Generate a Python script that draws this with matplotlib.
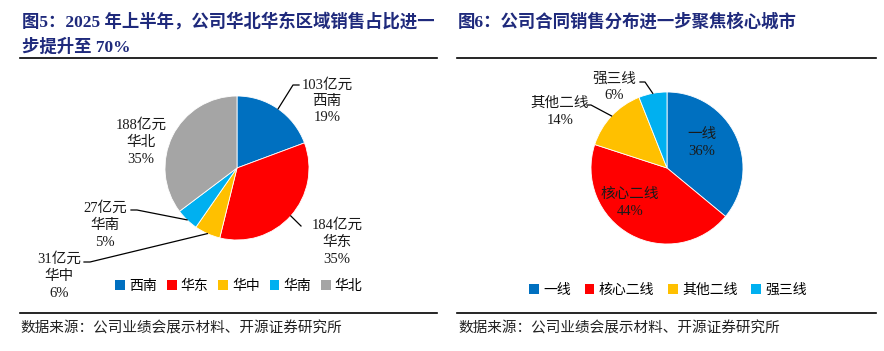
import numpy as np
import matplotlib
matplotlib.use("Agg")
import matplotlib.pyplot as plt
from matplotlib.lines import Line2D
from matplotlib.patches import Patch

plt.rcParams['font.family'] = ['Liberation Serif', 'Noto Sans CJK SC', 'DejaVu Sans']

# data
regions = ['西南', '华东', '华中', '华南', '华北']
region_sales = [103, 184, 31, 27, 188]   # 亿元
region_pct = [19, 35, 6, 5, 35]
region_colors = ['#0070C0', '#FF0000', '#FFC000', '#00B0F0', '#A5A5A5']

tiers = ['一线', '核心二线', '其他二线', '强三线']
tier_pct = [36, 44, 14, 6]
tier_colors = ['#0070C0', '#FF0000', '#FFC000', '#00B0F0']

title5 = '图5：2025 年上半年，公司华北华东区域销售占比进一\n步提升至 70%'
title6 = '图6：公司合同销售分布进一步聚焦核心城市'
source = '数据来源：公司业绩会展示材料、开源证券研究所'
navy = '#1F2A7C'

W, H = 884, 351
fig = plt.figure(figsize=(W / 100, H / 100), dpi=100)
ax = fig.add_axes([0, 0, 1, 1])

def Y(y):
    return H - y

def edge_pt(w, c, r):
    a = np.deg2rad((w.theta1 + w.theta2) / 2)
    return c[0] + r * np.cos(a), c[1] + r * np.sin(a)

# left pie
c5, r5 = (237, Y(168)), 72
w5, _ = ax.pie(region_sales, colors=region_colors, startangle=90, counterclock=False,
               center=c5, radius=r5, wedgeprops=dict(edgecolor='white', linewidth=0.6))

# right pie
c6, r6 = (667, Y(168)), 76
w6, _ = ax.pie(tier_pct, colors=tier_colors, startangle=90, counterclock=False,
               center=c6, radius=r6, wedgeprops=dict(edgecolor='white', linewidth=0.6))

ax.set_xlim(0, W)
ax.set_ylim(0, H)
ax.set_aspect('equal')
ax.axis('off')

# titles and rules
ax.text(22, Y(22), title5.split('\n')[0], fontsize=12.5, fontweight='bold', color=navy, va='center', ha='left')
ax.text(22, Y(47), title5.split('\n')[1], fontsize=12.5, fontweight='bold', color=navy, va='center', ha='left')
ax.text(458, Y(22), title6, fontsize=12.5, fontweight='bold', color=navy, va='center', ha='left')
for x0, x1 in [(20, 437), (457, 876)]:
    ax.add_line(Line2D([x0, x1], [Y(58), Y(58)], color='black', lw=1.2))
    ax.add_line(Line2D([x0, x1], [Y(313), Y(313)], color='black', lw=1.2))
ax.text(20, Y(329), source, fontsize=10.5, color='#222222', va='center', ha='left')
ax.text(458, Y(329), source, fontsize=10.5, color='#222222', va='center', ha='left')

# label positions (text center) and leader paths
lab5 = {
    '西南': ((327, 101), [(293, 85), (299, 85)]),
    '华东': ((337, 242), [(301, 226)]),
    '华中': ((59, 276), [(90, 262), (84, 262)]),
    '华南': ((105, 225), [(137, 210), (131, 210)]),
    '华北': ((141, 142), None),
}
for i, name in enumerate(regions):
    (tx, ty), path = lab5[name]
    s = f'{region_sales[i]}亿元\n{name}\n{region_pct[i]}%'
    ax.text(tx, Y(ty), s, fontsize=10.5, ha='center', va='center', linespacing=1.35, color='#1a1a1a')
    if path:
        ex, ey = edge_pt(w5[i], c5, r5)
        xs = [ex] + [p[0] for p in path]
        ys = [ey] + [Y(p[1]) for p in path]
        ax.add_line(Line2D(xs, ys, color='black', lw=0.9))

lab6 = {
    '一线': ((702, 143), None),
    '核心二线': ((630, 203), None),
    '其他二线': ((560, 112), [(591, 105), (587, 105)]),
    '强三线': ((614, 87), [(645, 82), (640, 82)]),
}
for i, name in enumerate(tiers):
    (tx, ty), path = lab6[name]
    s = f'{name}\n{tier_pct[i]}%'
    ax.text(tx, Y(ty), s, fontsize=10.5, ha='center', va='center', linespacing=1.35, color='#1a1a1a')
    if path:
        ex, ey = edge_pt(w6[i], c6, r6)
        xs = [ex] + [p[0] for p in path]
        ys = [ey] + [Y(p[1]) for p in path]
        ax.add_line(Line2D(xs, ys, color='black', lw=0.9))

leg_kw = dict(frameon=False, handlelength=0.7, handleheight=0.7, handletextpad=0.3,
              fontsize=10, loc='center')
h5 = [Patch(facecolor=c, edgecolor='none') for c in region_colors]
h6 = [Patch(facecolor=c, edgecolor='none') for c in tier_colors]
fig.legend(h5, regions, ncol=5, columnspacing=0.7, bbox_to_anchor=(239 / W, 1 - 286 / H), **leg_kw)
fig.legend(h6, tiers, ncol=4, columnspacing=1.0, bbox_to_anchor=(668 / W, 1 - 290 / H), **leg_kw)

fig.savefig('out.png', dpi=100)
